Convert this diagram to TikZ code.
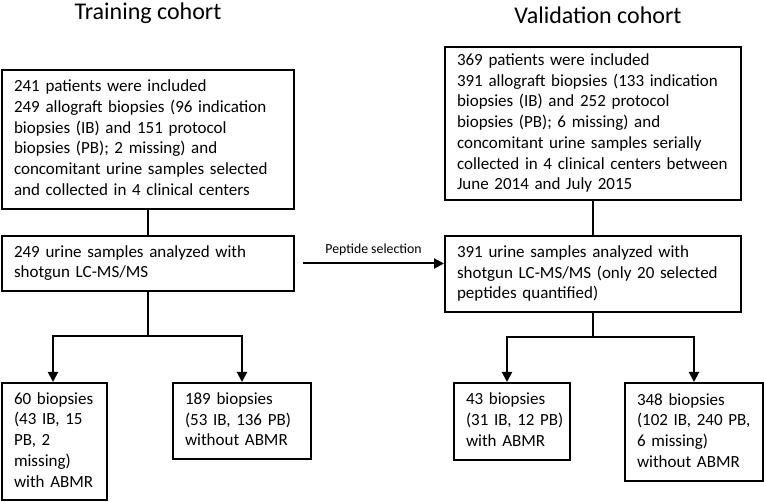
\documentclass[tikz,border=0pt]{standalone}
\usepackage{fontspec}
\setmainfont{Carlito}
\usetikzlibrary{arrows.meta,calc}
\newcommand{\lines}[1]{\begin{tabular}{@{}l@{}}#1\end{tabular}}
\begin{document}
\begin{tikzpicture}[x=1pt,y=-1pt,
  box/.style={draw,line width=2pt,align=left,inner xsep=12pt,inner ysep=0pt,
    font=\fontsize{17}{20.7}\selectfont},
  conn/.style={line width=2pt},
  arr/.style={line width=2pt,-{Triangle[length=10pt,width=10pt]}},
  title/.style={font=\fontsize{24}{28}\selectfont}]
\useasboundingbox (0,0) rectangle (764,502);
\node[title] (tt) at (148,13) {Training cohort};
\node[title] (vt) at (598,15) {Validation cohort};
\node[box,text width=268pt,minimum height=139pt] (A) at (148,139.5)
 {\lines{241 patients were included\\249 allograft biopsies (96 indication\\biopsies (IB) and 151 protocol\\biopsies (PB); 2 missing) and\\concomitant urine samples selected\\and collected in 4 clinical centers}};
\node[box,text width=268pt,minimum height=55pt] (B) at (148,263.5)
 {\lines{249 urine samples analyzed with\\shotgun LC-MS/MS}};
\node[box,text width=272pt,minimum height=153pt] (C) at (593,123.5)
 {\lines{369 patients were included\\391 allograft biopsies (133 indication\\biopsies (IB) and 252 protocol\\biopsies (PB); 6 missing) and\\concomitant urine samples serially\\collected in 4 clinical centers between\\June 2014 and July 2015}};
\node[box,text width=272pt,minimum height=76pt] (D) at (593,274)
 {\lines{391 urine samples analyzed with\\shotgun LC-MS/MS (only 20 selected\\peptides quantified)}};
\node[box,text width=81pt,minimum height=117pt] (E) at (54.5,441.5)
 {\lines{60 biopsies\\(43 IB, 15\\PB, 2\\missing)\\with ABMR}};
\node[box,text width=114pt,minimum height=76pt] (F) at (242,421)
 {\lines{189 biopsies\\(53 IB, 136 PB)\\without ABMR}};
\node[box,text width=92pt,minimum height=77pt] (G) at (512,421.5)
 {\lines{43 biopsies\\(31 IB, 12 PB)\\with ABMR}};
\node[box,text width=114pt,minimum height=98pt] (H) at (694,432)
 {\lines{348 biopsies\\(102 IB, 240 PB,\\6 missing)\\without ABMR}};
\draw[conn] (A.south) -- (B.north);
\draw[conn] (C.south) -- (D.north);
\coordinate (jl) at (148,336);
\coordinate (jr) at (593,337);
\draw[conn] (B.south) -- (jl);
\draw[arr] (jl) -| ([xshift=-1.5pt]E.north);
\draw[arr] (jl) -| (F.north);
\draw[conn] (D.south) -- (jr);
\draw[arr] (jr) -| ([xshift=-5pt]G.north);
\draw[arr] (jr) -| (H.north);
\coordinate (ps) at ([xshift=8pt]B.east);
\draw[arr] (ps) -- (ps -| D.west) node[midway,above=3pt,font=\fontsize{13.8}{16}\selectfont] (pl) {Peptide selection};
\end{tikzpicture}
\end{document}
